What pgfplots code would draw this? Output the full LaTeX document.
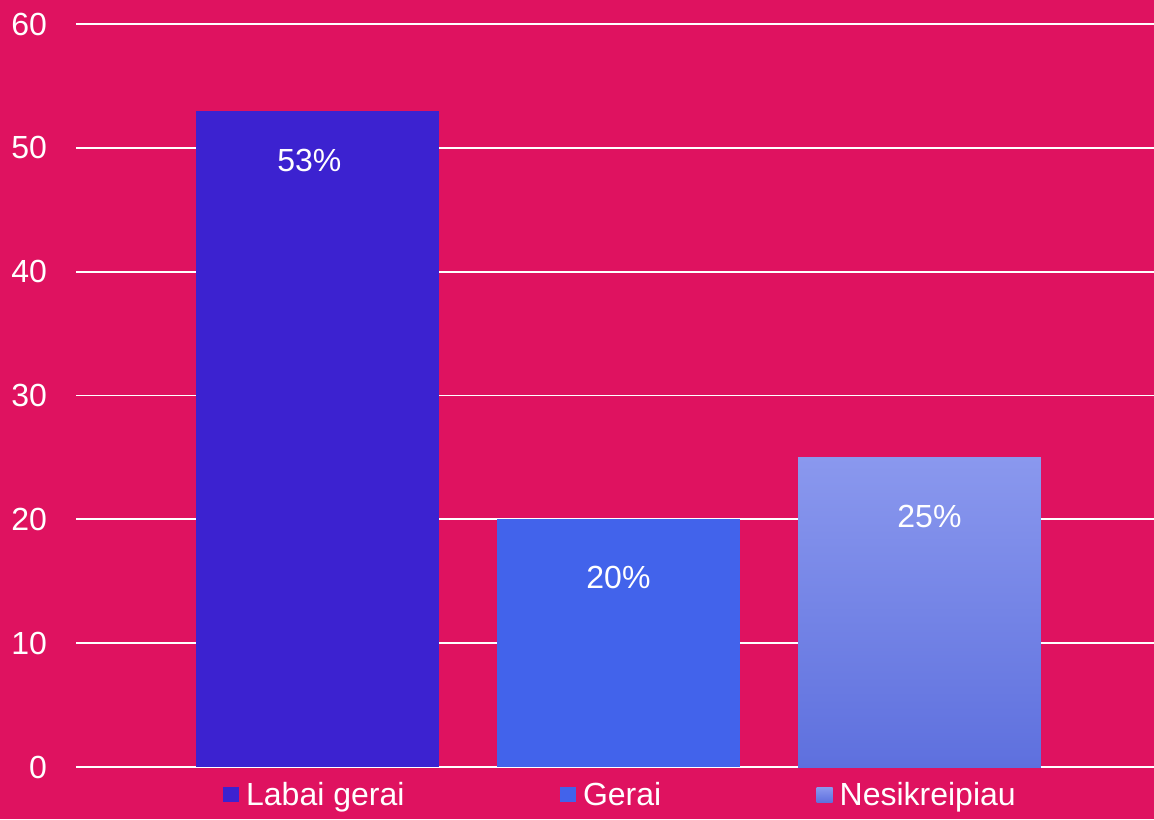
\documentclass[border=0pt]{standalone}
\usepackage{pgfplots}
\pgfplotsset{compat=1.18}
\usepackage{fontspec}
\setmainfont{Liberation Sans}
\definecolor{bg}{HTML}{DF1260}
\definecolor{cA}{HTML}{3C22D0}
\definecolor{cB}{HTML}{4263EB}
\definecolor{cCt}{HTML}{8A98EE}
\definecolor{cCm}{HTML}{7385F4}
\definecolor{cCb}{HTML}{5E70DE}
\newcommand{\sq}[1]{\textcolor{#1}{\raisebox{1.5pt}{\rule{8pt}{7.5pt}}}\hspace{3.5pt}}
\newcommand{\sqg}{\raisebox{1.5pt}{\tikz\shade[top color=cCt, bottom color=cCb] (0,0) rectangle (8pt,7.5pt);}\hspace{3.5pt}}
\begin{document}
\begin{tikzpicture}
\fill[bg] (-38pt,-26pt) rectangle (539pt,383.5pt);
\useasboundingbox (-38pt,-26pt) rectangle (539pt,383.5pt);
\begin{axis}[
  at={(0,0)}, anchor=south west,
  scale only axis, width=539pt, height=371.5pt,
  xmin=-0.802, xmax=2.779, ymin=0, ymax=60,
  ytick={0,10,20,30,40,50,60},
  xtick={-0.012,0.974,1.989},
  xticklabels={{\sq{cA}Labai gerai},{\sq{cB}Gerai},{\sqg Nesikreipiau}},
  axis line style={draw=none},
  major tick length=0pt,
  ymajorgrids, grid style={white, line width=0.9pt},
  tick label style={text=white, font=\fontsize{16}{19}\selectfont},
  /pgf/number format/assume math mode=true,
  yticklabel style={xshift=-11pt},
  xticklabel style={yshift=-4pt},
  bar width=0.807, 
  clip=false,
]
\addplot[ybar, bar shift=0, fill=cA, draw=none] coordinates {(0,53)};
\addplot[ybar, bar shift=0, fill=cB, draw=none] coordinates {(1,20)};
\addplot[ybar, bar shift=0, draw=none, top color=cCt, middle color=cCm, bottom color=cCb] coordinates {(2,25)};
\addplot[draw=none, mark=none, point meta=explicit symbolic,
  nodes near coords, nodes near coords align={center},
  every node near coord/.append style={anchor=center, text=white, font=\fontsize{16}{19}\selectfont}]
  coordinates {(-0.027,49.0)[53\%] (1,15.3)[20\%] (2.033,20.2)[25\%]};
\end{axis}
\end{tikzpicture}
\end{document}
